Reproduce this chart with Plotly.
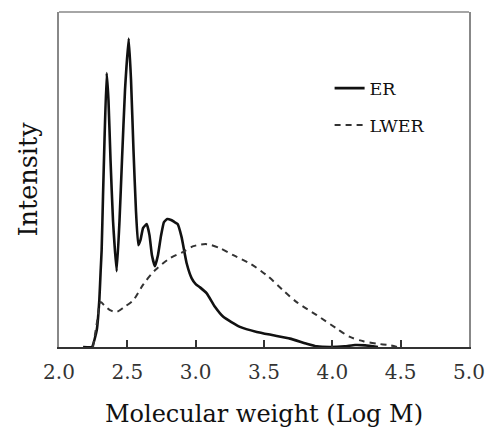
import plotly.graph_objects as go

# ER curve (Log M, relative intensity)
er_x = [2.176, 2.241, 2.276, 2.295, 2.305, 2.312, 2.322, 2.333, 2.349, 2.362, 2.377, 2.395,
        2.422, 2.443, 2.461, 2.483, 2.510, 2.527, 2.545, 2.563, 2.580, 2.596, 2.615, 2.642,
        2.662, 2.680, 2.702, 2.724, 2.746, 2.768, 2.792, 2.820, 2.845, 2.868, 2.897, 2.934,
        2.971, 3.002, 3.032, 3.081, 3.141, 3.202, 3.324, 3.447, 3.568, 3.690, 3.812, 3.886,
        3.983, 4.09, 4.166, 4.24, 4.334]
er_y = [0.0, 0.0, 0.05, 0.14, 0.229, 0.289, 0.45, 0.618, 0.818, 0.737, 0.558, 0.379,
        0.226, 0.379, 0.558, 0.767, 0.921, 0.797, 0.588, 0.408, 0.304, 0.319, 0.355, 0.367,
        0.334, 0.274, 0.241, 0.274, 0.331, 0.373, 0.382, 0.379, 0.373, 0.367, 0.328, 0.250,
        0.205, 0.187, 0.178, 0.160, 0.120, 0.090, 0.060, 0.045, 0.035, 0.025, 0.010, 0.002,
        0.0, 0.002, 0.006, 0.005, 0.0]

# LWER curve
lwer_x = [2.249, 2.278, 2.305, 2.337, 2.373, 2.422, 2.476, 2.544, 2.617, 2.702, 2.812, 2.909,
          2.983, 3.081, 3.178, 3.275, 3.398, 3.520, 3.641, 3.739, 3.886, 4.032, 4.129, 4.227,
          4.325, 4.422, 4.473]
lwer_y = [0.0, 0.074, 0.134, 0.122, 0.110, 0.105, 0.119, 0.140, 0.187, 0.229, 0.265, 0.284,
          0.301, 0.307, 0.295, 0.274, 0.249, 0.214, 0.169, 0.134, 0.095, 0.055, 0.030, 0.017,
          0.010, 0.005, 0.0]

x_ticks = [2.0, 2.5, 3.0, 3.5, 4.0, 4.5, 5.0]
x_tick_labels = ["2.0", "2.5", "3.0", "3.5", "4.0", "4.5", "5.0"]

SERIF = "DejaVu Serif"

fig = go.Figure()
fig.add_trace(go.Scatter(x=er_x, y=er_y, mode="lines", name="ER", legendgroup="a",
                         line=dict(color="#111111", width=2.6, shape="spline", smoothing=0.4)))
fig.add_trace(go.Scatter(x=lwer_x, y=lwer_y, mode="lines", name="LWER", legendgroup="b",
                         line=dict(color="#333333", width=2, dash="6px,5px", shape="spline", smoothing=0.8)))

fig.update_layout(
    width=485, height=429,
    margin=dict(l=59, r=16, t=12, b=82),
    paper_bgcolor="white", plot_bgcolor="white",
    font=dict(family=SERIF, color="#111111"),
    showlegend=True,
    legend=dict(x=0.66, y=0.826, xanchor="left", yanchor="top", bgcolor="rgba(0,0,0,0)",
                font=dict(size=17.5, family=SERIF), tracegroupgap=11, itemwidth=30),
    xaxis=dict(range=[2, 5], tickvals=x_ticks, ticktext=x_tick_labels, automargin=False,
               showgrid=False, zeroline=False, showline=True, linecolor="#333333", linewidth=2,
               ticks="inside", ticklen=7, tickcolor="#333333", tickwidth=1.5,
               ticklabeloverflow="allow",
               tickfont=dict(size=20, family=SERIF, color="#333333"), ticklabelstandoff=6,
               title=dict(text="Molecular weight (Log M)", font=dict(size=24, family=SERIF), standoff=22)),
    yaxis=dict(range=[0, 1], showticklabels=False, ticks="", showgrid=False, zeroline=False,
               showline=True, linecolor="#888888", linewidth=1.5, mirror=True, automargin=False,
               title=dict(text="Intensity", font=dict(size=25.5, family=SERIF), standoff=12)),
    shapes=[dict(type="line", xref="paper", yref="paper", x0=0, x1=1, y0=1, y1=1,
                 line=dict(color="#888888", width=1.5))],
)

fig.write_html("out.html")
